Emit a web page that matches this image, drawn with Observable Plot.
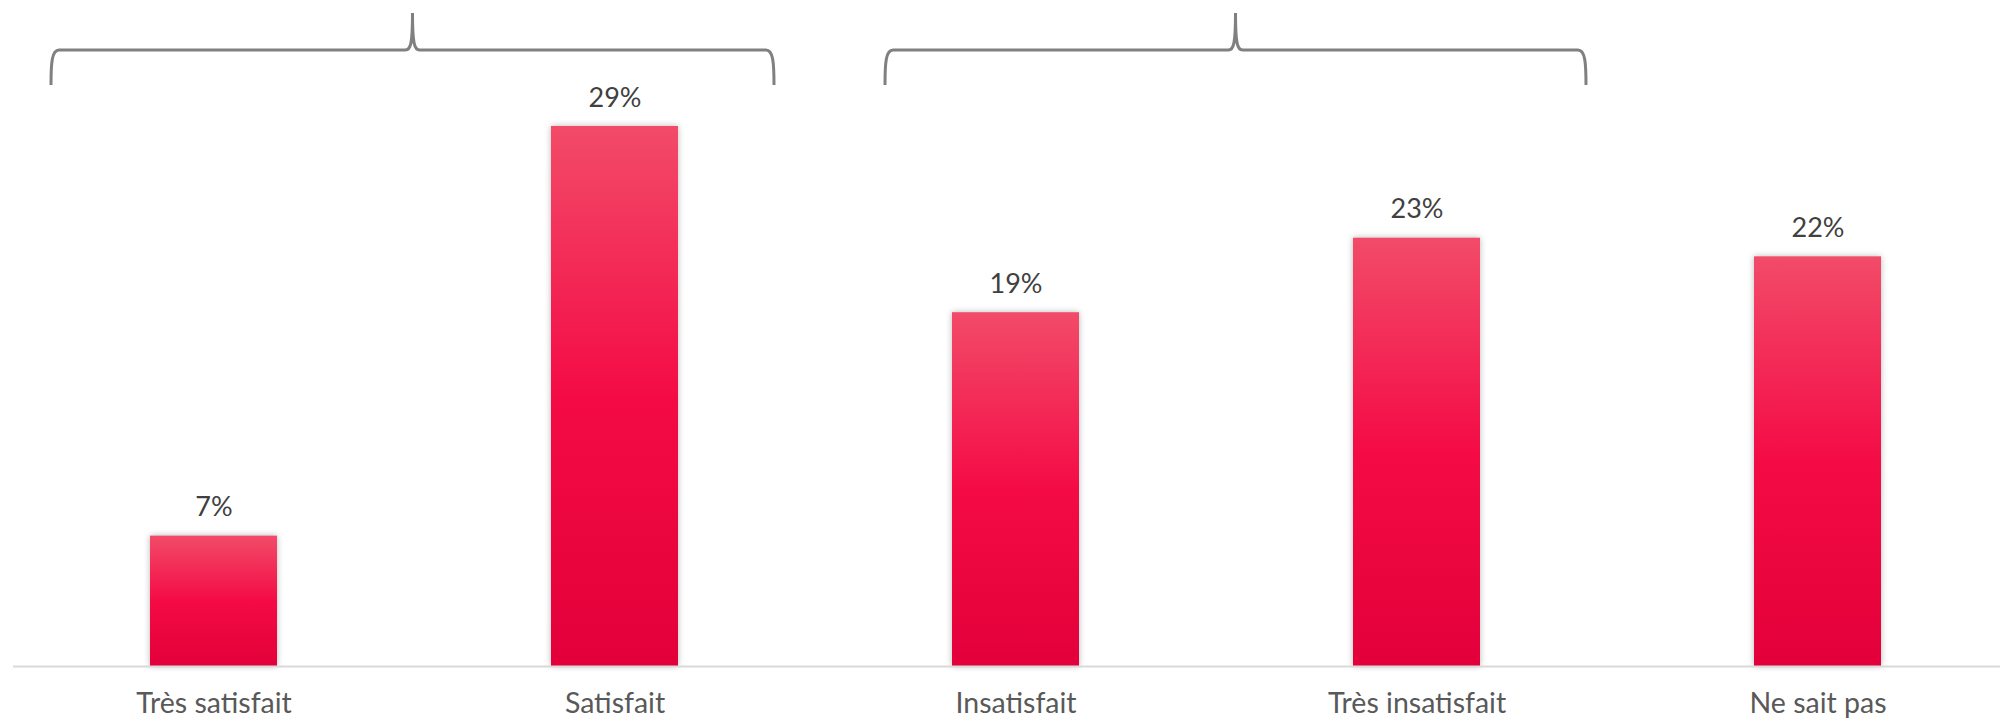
<!DOCTYPE html>
<html>
<head>
<meta charset="utf-8">
<script src="https://cdn.jsdelivr.net/npm/d3@7"></script>
<script src="https://cdn.jsdelivr.net/npm/@observablehq/plot@0.6"></script>
<style>
  html, body { margin: 0; padding: 0; background: #ffffff; overflow: hidden; }
  #chart svg { display: block; }
</style>
</head>
<body>
<div id="chart"></div>
<script>
// ---- Data ----
const categories = ["Très satisfait", "Satisfait", "Insatisfait", "Très insatisfait", "Ne sait pas"];
const values = [7, 29, 19, 23, 22];
const valueLabels = ["7%", "29%", "19%", "23%", "22%"];
const braceGroups = [["Très satisfait", "Satisfait"], ["Insatisfait", "Très insatisfait"]];

// ---- Styles ----
const braceInsets = [[38, 41], [70, 31]]; // px inset from band edges (style)
const FONT = "Lato, 'Open Sans', sans-serif";

const table = categories.map((c, i) => ({category: c, value: values[i], label: valueLabels[i]}));

const plot = Plot.plot({
  width: 2000,
  height: 721,
  marginLeft: 13,
  marginRight: 0,
  marginTop: 126,
  marginBottom: 55,
  style: {fontFamily: FONT, background: "#ffffff"},
  x: {type: "band", domain: categories, range: [13, 2018], paddingInner: 0.683, paddingOuter: 0.3415, label: null},
  y: {axis: null},
  marks: [
    Plot.barY(table, {x: "category", y: "value", fill: "url(#barGrad)", imageFilter: "drop-shadow(0px 0px 3px rgba(0,0,0,0.28))"}),
    Plot.ruleY([0], {stroke: "#d9d9d9", strokeWidth: 2}),
    Plot.text(table, {x: "category", y: "value", text: "label", lineAnchor: "bottom", dy: -20, fontSize: 27, fill: "#404040"}),
    Plot.axisX({tickSize: 0, tickPadding: 26, fontSize: 28.5, fill: "#595959", label: null})
  ]
});

const svg = d3.select(plot);
const defs = svg.insert("defs", ":first-child");
const grad = defs.append("linearGradient").attr("id", "barGrad").attr("x1", 0).attr("y1", 0).attr("x2", 0).attr("y2", 1);
grad.append("stop").attr("offset", "0%").attr("stop-color", "#f24b69");
grad.append("stop").attr("offset", "50%").attr("stop-color", "#f40b45");
grad.append("stop").attr("offset", "100%").attr("stop-color", "#e3003a");

// Braces drawn from the plot's own x scale
const xs = plot.scale("x");
const yTop = 13, yMid = 50, yEnd = 85;
const g = svg.append("g").attr("fill", "none").attr("stroke", "#808080").attr("stroke-width", 3);
braceGroups.forEach(([a, b], i) => {
  const x1 = xs.apply(a) - (xs.step - xs.bandwidth) / 2 + braceInsets[i][0];
  const x2 = xs.apply(b) + xs.bandwidth + (xs.step - xs.bandwidth) / 2 - braceInsets[i][1];
  const xm = (x1 + x2) / 2;
  const d = [
    `M${x1},${yEnd} C${x1},${yMid + 12} ${x1 + 1},${yMid} ${x1 + 8},${yMid}`,
    `L${xm - 7},${yMid} C${xm - 2},${yMid} ${xm},${yMid - 6} ${xm},${yTop}`,
    `M${xm},${yTop} C${xm},${yMid - 6} ${xm + 2},${yMid} ${xm + 7},${yMid}`,
    `L${x2 - 8},${yMid} C${x2 - 1},${yMid} ${x2},${yMid + 12} ${x2},${yEnd}`
  ].join(" ");
  g.append("path").attr("d", d);
});

document.getElementById("chart").appendChild(plot);
</script>
</body>
</html>
